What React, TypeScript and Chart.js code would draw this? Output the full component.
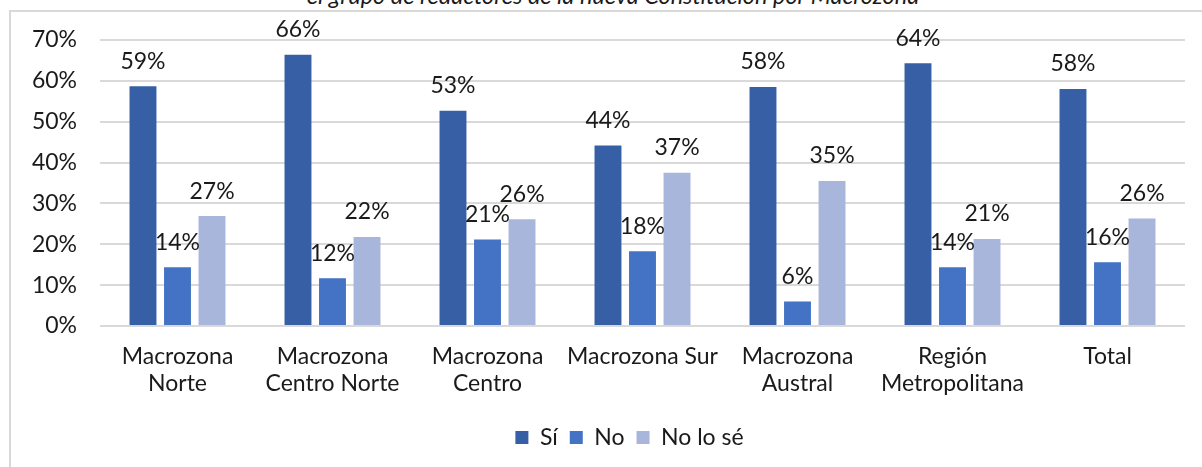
import React, { useEffect, useRef } from "react";
import { Chart, registerables } from "chart.js";

Chart.register(...registerables);

const TITLE = "el grupo de redactores de la nueva Constitución por Macrozona";
const categories: string[][] = [
  ["Macrozona", "Norte"],
  ["Macrozona", "Centro Norte"],
  ["Macrozona", "Centro"],
  ["Macrozona Sur"],
  ["Macrozona", "Austral"],
  ["Región", "Metropolitana"],
  ["Total"],
];
const siValues = [58.7, 66.4, 52.7, 44.2, 58.5, 64.3, 58.0];
const noValues = [14.4, 11.7, 21.2, 18.3, 6.0, 14.4, 15.6];
const noLoSeValues = [26.9, 21.8, 26.1, 37.5, 35.5, 21.3, 26.3];
const siLabels = ["59%", "66%", "53%", "44%", "58%", "64%", "58%"];
const noLabels = ["14%", "12%", "21%", "18%", "6%", "14%", "16%"];
const noLoSeLabels = ["27%", "22%", "26%", "37%", "35%", "21%", "26%"];
const seriesNames = ["Sí", "No", "No lo sé"];
const yTicks = [0, 10, 20, 30, 40, 50, 60, 70];

const FONT = "Lato";
const FS = 23;

const dataLabelPlugin = {
  id: "dataLabels",
  afterDatasetsDraw(chart: any) {
    const ctx = chart.ctx;
    const all = [siLabels, noLabels, noLoSeLabels];
    ctx.save();
    ctx.font = `${FS}px ${FONT}`;
    ctx.fillStyle = "#1a1a1a";
    ctx.textAlign = "center";
    ctx.textBaseline = "middle";
    chart.data.datasets.forEach((_ds: any, di: number) => {
      const meta = chart.getDatasetMeta(di);
      meta.data.forEach((bar: any, i: number) => {
        ctx.fillText(all[di][i], bar.x, bar.y - 25);
      });
    });
    ctx.restore();
  },
};

const legendShiftPlugin = {
  id: "legendShift",
  afterLayout(chart: any) {
    if (chart.legend) {
      chart.legend.left += 37;
      chart.legend.right += 37;
    }
  },
};

export default function App() {
  const ref = useRef<HTMLCanvasElement | null>(null);
  useEffect(() => {
    if (!ref.current) return;
    const chart = new Chart(ref.current, {
      type: "bar",
      data: {
        labels: categories,
        datasets: [
          { label: seriesNames[0], data: siValues, backgroundColor: "#365FA5" },
          { label: seriesNames[1], data: noValues, backgroundColor: "#4472C4" },
          { label: seriesNames[2], data: noLoSeValues, backgroundColor: "#A8B6DC" },
        ],
      },
      options: {
        responsive: false,
        animation: false,
        events: [],
        datasets: { bar: { categoryPercentage: 0.668, barPercentage: 0.78 } },
        layout: { padding: { top: 40, right: 17, left: 0, bottom: 8 } },
        scales: {
          x: {
            grid: { display: false, drawTicks: false },
            border: { display: false },
            ticks: {
              font: { family: FONT, size: FS, lineHeight: 1.17 },
              color: "#1a1a1a",
              padding: 17,
              maxRotation: 0,
              autoSkip: false,
            },
            afterFit(scale: any) {
              scale.height = 88;
            },
          },
          y: {
            min: 0,
            max: 70,
            afterBuildTicks(scale: any) {
              scale.ticks = yTicks.map((v) => ({ value: v }));
            },
            grid: { color: "#d9d9d9", lineWidth: 2, drawTicks: false },
            border: { display: false },
            ticks: {
              font: { family: FONT, size: FS },
              color: "#1a1a1a",
              padding: 23,
              callback: (v: any) => `${v}%`,
            },
            afterFit(scale: any) {
              scale.width = 100;
            },
          },
        },
        plugins: {
          legend: {
            position: "bottom",
            labels: {
              font: { family: FONT, size: FS },
              color: "#1a1a1a",
              boxWidth: 13,
              boxHeight: 13,
              padding: 12,
            },
          },
          tooltip: { enabled: false },
        },
      },
      plugins: [dataLabelPlugin, legendShiftPlugin],
    });
    return () => chart.destroy();
  }, []);

  return (
    <div style={{ position: "fixed", left: 0, top: 0, width: 1202, height: 467, overflow: "hidden", background: "#fff" }}>
      <div
        style={{
          position: "absolute",
          left: 9,
          top: 10,
          width: 1300,
          height: 600,
          border: "2px solid #d9d9d9",
          boxSizing: "border-box",
        }}
      />
      <div
        style={{
          position: "absolute",
          left: 0,
          width: 1226,
          top: -15,
          textAlign: "center",
          fontFamily: FONT,
          fontStyle: "italic",
          fontSize: 23.5,
          lineHeight: "21px",
          color: "#1a1a1a",
          whiteSpace: "nowrap",
        }}
      >
        {TITLE}
      </div>
      <canvas ref={ref} width={1202} height={467} style={{ position: "absolute", left: 0, top: 0 }} />
    </div>
  );
}
